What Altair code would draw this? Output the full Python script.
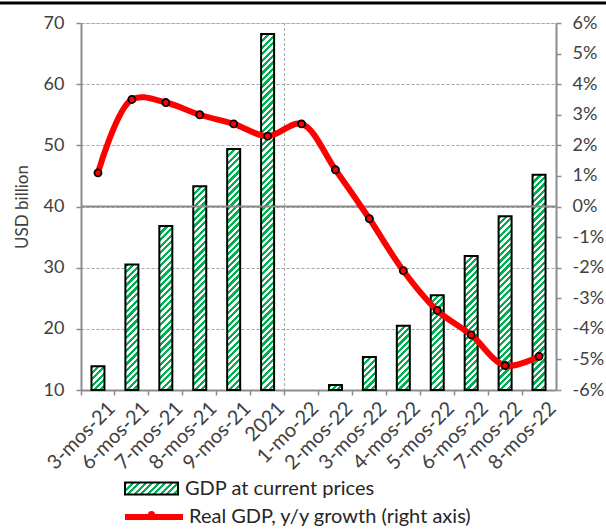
import json
import altair as alt

# Periods (cumulative months) and the two series
periods = ["3-mos-21", "6-mos-21", "7-mos-21", "8-mos-21", "9-mos-21", "2021",
           "1-mo-22", "2-mos-22", "3-mos-22", "4-mos-22", "5-mos-22", "6-mos-22",
           "7-mos-22", "8-mos-22"]
gdp_current = [13.9, 30.5, 36.8, 43.3, 49.4, 68.2, 5.2, 10.8, 15.4, 20.5, 25.5,
               31.9, 38.4, 45.2]
real_growth = [1.1, 3.5, 3.4, 3.0, 2.7, 2.3, 2.7, 1.2, -0.4, -2.1, -3.4, -4.2,
               -5.2, -4.9]
left_ticks = [10, 20, 30, 40, 50, 60, 70]
right_ticks = list(range(-6, 7))
zero_level = [0]

BAR_LABEL = "GDP at current prices"
LINE_LABEL = "Real GDP, y/y growth (right axis)"

W, H = 475, 367
LEFT_DOMAIN = [10, 70]
RIGHT_DOMAIN = [-6, 6]
BAR_W = 13
GREEN = "#00b050"
RED = "#ff0000"
AXIS_GRAY = "#8c8c8c"
GRID_GRAY = "#a6a6a6"
TEXT = "#404040"
FONT = "Lato"
TICK_FS = 18
XLAB_FS = 20
LEGEND_FS = 20
STRIPE = 6.5  # period of the hatch along x+y, in pixels


def hatch(w, h):
    """Diagonal green/white stripes as a bounding-box linear gradient."""
    r = h / w
    k = (1 + r) / (1 + r * r)
    n = max(1, round((w + h) / STRIPE))
    stops = []
    for i in range(n):
        a, m, b = i / n, (i + 0.5) / n, (i + 1) / n
        stops += [{"offset": a, "color": GREEN}, {"offset": m, "color": GREEN},
                  {"offset": m, "color": "white"}, {"offset": b, "color": "white"}]
    return {"gradient": "linear", "x1": 0, "y1": 0, "x2": k, "y2": k * r,
            "stops": stops}


bar_rows = []
for p, v in zip(periods, gdp_current):
    h = (v - LEFT_DOMAIN[0]) / (LEFT_DOMAIN[1] - LEFT_DOMAIN[0]) * H
    bar_rows.append({"period": p, "gdp": v, "series": BAR_LABEL,
                     "fill": hatch(BAR_W, h) if h > 2 else GREEN})

line_rows = [{"period": p, "growth": g, "series": LINE_LABEL}
             for p, g in zip(periods, real_growth)]
zero_rows = [{"growth": z} for z in zero_level]

x_enc = alt.X(
    "period:N", sort=periods, title=None,
    scale=alt.Scale(paddingInner=0, paddingOuter=0),
    axis=alt.Axis(bandPosition=0, labelOffset=W / len(periods) / 2 - 3,
                  labelAngle=-45, labelFontSize=XLAB_FS, labelColor=TEXT,
                  labelFont=FONT, labelPadding=10, domainColor=AXIS_GRAY,
                  domainWidth=2, tickColor=AXIS_GRAY, tickWidth=1.5,
                  tickSize=5, grid=False),
)

y_left = alt.Y(
    "gdp:Q", scale=alt.Scale(domain=LEFT_DOMAIN, nice=False, zero=False),
    axis=alt.Axis(orient="left", values=left_ticks, grid=True,
                  gridDash=[3, 2], gridColor=GRID_GRAY, gridWidth=1,
                  domainColor=AXIS_GRAY, domainWidth=2, tickColor=AXIS_GRAY,
                  tickWidth=1.5, tickSize=5, labelPadding=12,
                  labelFontSize=TICK_FS, labelColor=TEXT, labelFont=FONT,
                  title="USD billion", titleFontSize=17,
                  titleFontWeight="normal", titleColor=TEXT, titleFont=FONT,
                  titlePadding=12),
)

y_right = alt.Y(
    "growth:Q", scale=alt.Scale(domain=RIGHT_DOMAIN, nice=False, zero=False),
    axis=alt.Axis(orient="right", values=right_ticks, grid=False,
                  labelExpr="datum.value + '%'", domainColor=AXIS_GRAY,
                  domainWidth=2, tickColor=AXIS_GRAY, tickWidth=1.5,
                  tickSize=5, labelPadding=11, labelFontSize=TICK_FS,
                  labelColor=TEXT, labelFont=FONT, title=None),
)

bar_legend_fill = {"expr": json.dumps(hatch(53, 12))}

# Divider between full-year 2021 and the 2022 periods
divider = alt.Chart(alt.Data(values=[{"period": "1-mo-22"}])).mark_rule(
    color=GRID_GRAY, strokeWidth=1, strokeDash=[3, 2]
).encode(x=alt.X("period:N", sort=periods, bandPosition=0))

# Bars start at the axis minimum; periods below it are not drawn
bars = alt.Chart(alt.Data(values=bar_rows)).transform_filter(
    alt.datum.gdp > LEFT_DOMAIN[0]
).mark_bar(
    width=BAR_W, strokeWidth=2
).encode(
    x=x_enc,
    y=y_left,
    y2=alt.datum(LEFT_DOMAIN[0]),
    fill=alt.Fill("fill:N", scale=None, legend=None),
    stroke=alt.Stroke(
        "series:N", scale=alt.Scale(range=["black"]),
        legend=alt.Legend(
            title=None, orient="none", legendX=43, legendY=438, padding=0,
            symbolType="M-1,-0.2264L1,-0.2264L1,0.2264L-1,0.2264Z",
            symbolSize=2809, symbolStrokeWidth=2,
            symbolFillColor=bar_legend_fill, labelFontSize=LEGEND_FS,
            labelColor="#262626", labelFont=FONT, labelOffset=6,
            labelLimit=500),
    ),
)

left = alt.layer(divider, bars)

zero_line = alt.Chart(alt.Data(values=zero_rows)).mark_rule(
    color=AXIS_GRAY, strokeWidth=2
).encode(y=y_right)

line = alt.Chart(alt.Data(values=line_rows)).mark_line(
    strokeWidth=6, interpolate="catmull-rom"
).encode(
    x=x_enc,
    y=y_right,
    color=alt.Color(
        "series:N", scale=alt.Scale(range=[RED]),
        legend=alt.Legend(
            title=None, orient="none", legendX=41, legendY=462, padding=0,
            symbolType="stroke", symbolSize=3364, symbolStrokeWidth=6,
            labelFontSize=LEGEND_FS, labelColor="#262626", labelFont=FONT,
            labelOffset=3, labelLimit=500),
    ),
)

points = alt.Chart(alt.Data(values=line_rows)).mark_point(
    filled=True, fill=RED, stroke="black", strokeWidth=1.8, size=50, opacity=1
).encode(
    x=x_enc,
    y=y_right,
    shape=alt.Shape(
        "series:N", scale=alt.Scale(range=["circle"]),
        legend=alt.Legend(
            title=None, orient="none", legendX=66, legendY=487, padding=0,
            symbolSize=50, symbolFillColor=RED, symbolStrokeColor="black",
            symbolStrokeWidth=1.8, labelExpr="''", labelFontSize=1),
    ),
)

right = alt.layer(zero_line, line, points)

# Rule across the top of the figure
top_rule = alt.Chart(alt.Data(values=[{}])).mark_rule(
    color="black", strokeWidth=3
).encode(x=alt.value(-81), x2=alt.value(525), y=alt.value(-20))

chart = alt.layer(left, right, top_rule).resolve_scale(
    y="independent"
).properties(
    width=W, height=H,
    autosize=alt.AutoSizeParams(type="none"),
    padding={"left": 81, "top": 23, "right": 50, "bottom": 140},
).configure_view(stroke=None).configure(font=FONT)

chart.save("out.html", embed_options={"renderer": "svg", "actions": False})
